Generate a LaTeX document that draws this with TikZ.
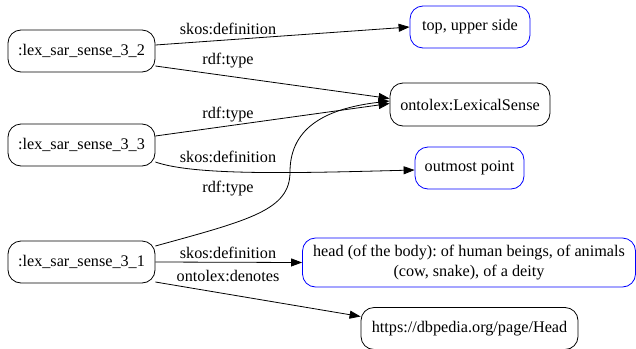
\documentclass[tikz,border=0pt]{standalone}
\usepackage{fontspec}
\setmainfont{Liberation Serif}
\frenchspacing
\usetikzlibrary{arrows.meta}
\begin{document}
\begin{tikzpicture}[x=1pt,y=-1pt,
  box/.style={draw, line width=0.8pt, rounded corners=13pt, inner sep=0pt, font=\fontsize{16.2}{19.5}\selectfont, align=center},
  lit/.style={box, draw=blue},
  lbl/.style={inner sep=0pt, font=\fontsize{16.2}{18}\selectfont},
  edge/.style={line width=0.8pt, -{Triangle[length=11pt,width=8pt]}}]
\useasboundingbox (0,0) rectangle (636,348);
% nodes
\node[box, minimum width=147pt, minimum height=42pt] (s32) at (81.5,51) {:lex\_sar\_sense\_3\_2};
\node[box, minimum width=147pt, minimum height=42pt] (s33) at (81.5,145) {:lex\_sar\_sense\_3\_3};
\node[box, minimum width=147pt, minimum height=42pt] (s31) at (81.5,262) {:lex\_sar\_sense\_3\_1};
\node[lit, minimum width=120pt, minimum height=42pt] (top) at (470,27) {top, upper side};
\node[box, minimum width=160pt, minimum height=43pt] (ls) at (470,104.5) {ontolex:LexicalSense};
\node[lit, minimum width=109pt, minimum height=42pt] (out) at (469.5,168) {outmost point};
\node[lit, minimum width=333pt, minimum height=49pt] (head) at (469,262.5) {head (of the body): of human beings, of animals\\(cow, snake), of a deity};
\node[box, minimum width=217pt, minimum height=42pt] (dbp) at (469.5,328.5) {https://dbpedia.org/page/Head};
% edges
\draw[edge] ([yshift=6pt]s32.east) -- ([yshift=0pt]top.west);
\draw[edge] ([yshift=-15pt]s32.east) -- ([yshift=6pt]ls.west);
\draw[edge] ([yshift=9pt]s33.east) -- ([yshift=1pt]ls.west);
\draw[edge] ([yshift=-17pt]s33.east) .. controls (195,176) and (300,173) .. ([yshift=-2pt]out.west);
\draw[edge] ([yshift=16pt]s31.east) .. controls (250,220) and (290,210) .. (290,172) .. controls (290,125) and (330,108) .. ([yshift=3.5pt]ls.west);
\draw[edge] (s31.east) -- (head.west);
\draw[edge] ([yshift=-20pt]s31.east) -- ([yshift=12pt]dbp.west);
% labels
\node[lbl] (l1) at (228,29) {skos:definition};
\node[lbl] (l2) at (228,61) {rdf:type};
\node[lbl] (l3) at (228,115) {rdf:type};
\node[lbl] (l4) at (228,157) {skos:definition};
\node[lbl] (l5) at (228,189) {rdf:type};
\node[lbl] (l6) at (228,253) {skos:definition};
\node[lbl] (l7) at (228,276) {ontolex:denotes};
\end{tikzpicture}
\end{document}
